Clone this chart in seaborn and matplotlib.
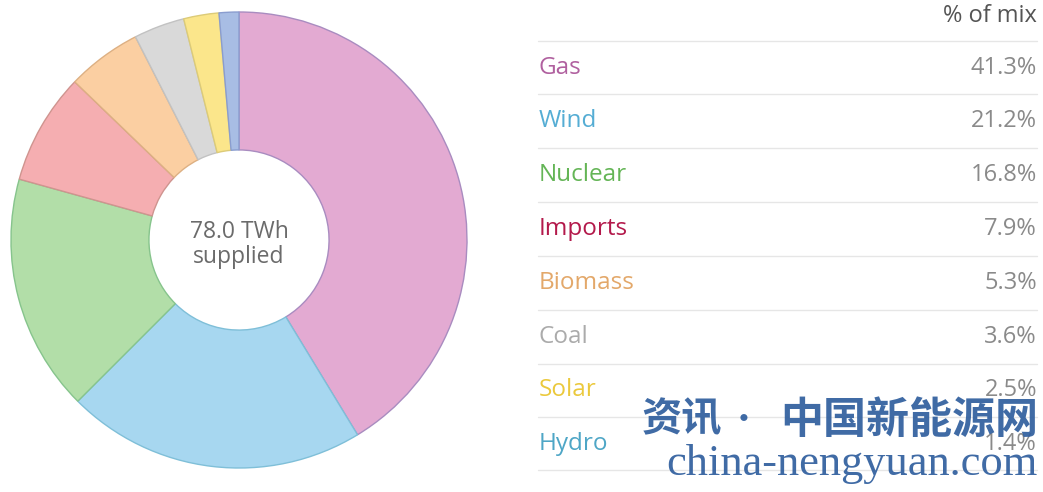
import matplotlib
matplotlib.use('Agg')
import matplotlib.pyplot as plt
import seaborn as sns

sns.set_theme(style='white')
plt.rcParams['font.family'] = ['Open Sans', 'DejaVu Sans']

# 数据
sources = ['Gas', 'Wind', 'Nuclear', 'Imports', 'Biomass', 'Coal', 'Solar', 'Hydro']
shares = [41.3, 21.2, 16.8, 7.9, 5.3, 3.6, 2.5, 1.4]
slice_colors = ['#e3aad2', '#a7d7f0', '#b2dea8', '#f5aeb1', '#fbcfa2', '#d9d9d9', '#fbe68b', '#a8bde4']
edge_colors = ['#a98cc0', '#7fbfd8', '#86c48c', '#cf948f', '#ddb083', '#c2c2c2', '#dccb78', '#8a9dcf']
label_colors = ['#b0609f', '#55add4', '#64b556', '#b3194b', '#e3a86a', '#ababab', '#ebc93c', '#4ea6c6']
total_label = '78.0 TWh\nsupplied'

W, H = 1043, 492
fig = plt.figure(figsize=(W / 100, H / 100), dpi=100)
fig.patch.set_facecolor('white')

# 环形图
cx, cy, r = 239, 240, 228
ax = fig.add_axes([(cx - r) / W, (H - cy - r) / H, 2 * r / W, 2 * r / H])
wedges, _ = ax.pie(shares, colors=slice_colors, startangle=90, counterclock=False,
                   radius=1.0, wedgeprops=dict(width=0.605, linewidth=1.0))
for w, ec in zip(wedges, edge_colors):
    w.set_edgecolor(ec)
ax.set_xlim(-1, 1)
ax.set_ylim(-1, 1)
ax.set_aspect('equal')
ax.axis('off')
ax.text(0, -0.02, total_label, ha='center', va='center', fontsize=16.5,
        color='#6b6b6b', linespacing=1.05)

# 右侧表格
tx = fig.add_axes([0, 0, 1, 1])
tx.set_xlim(0, W)
tx.set_ylim(H, 0)
tx.axis('off')
tx.patch.set_alpha(0)

x0, x1 = 538, 1037
tx.text(x1, 16, '% of mix', ha='right', va='center', fontsize=17, color='#555555')
line_y = [41, 94, 148, 202, 256, 310, 364, 417, 470]
for y in line_y:
    tx.plot([x0, x1], [y, y], color='#e6e6e6', lw=1.0)
for i, (name, val, col) in enumerate(zip(sources, shares, label_colors)):
    y = (line_y[i] + line_y[i + 1]) / 2
    tx.text(x0 + 1, y, name, ha='left', va='center', fontsize=17.5, color=col)
    tx.text(x1, y, f'{val:.1f}%', ha='right', va='center', fontsize=17, color='#8a8a8a')

# 水印
wm = '#2f5e9e'
cjk = ['Noto Sans CJK SC', 'DejaVu Sans']
tx.text(642, 420, '资讯', ha='left', va='center', fontsize=29, fontweight='bold',
        color=wm, alpha=0.92, family=cjk)
tx.text(744, 420, '·', ha='center', va='center', fontsize=20, fontweight='bold',
        color=wm, alpha=0.92, family=cjk)
tx.text(1038, 420, '中国新能源网', ha='right', va='center', fontsize=31, fontweight='bold',
        color=wm, alpha=0.92, family=cjk)
tx.text(1038, 475, 'china-nengyuan.com', ha='right', va='baseline', fontsize=32,
        color=wm, alpha=0.92, family=['Liberation Serif', 'DejaVu Serif'])

fig.savefig('out.png', dpi=100, facecolor='white')
